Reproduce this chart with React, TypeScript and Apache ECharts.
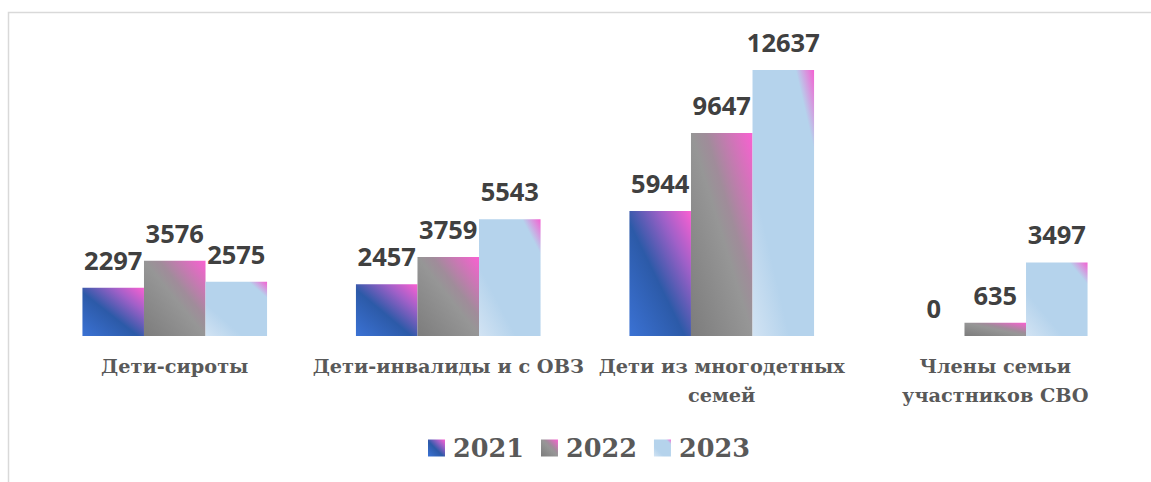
import React, { useEffect, useRef } from "react";
import * as echarts from "echarts";

const categories = [
  "Дети-сироты",
  "Дети-инвалиды и с ОВЗ",
  "Дети из многодетных\nсемей",
  "Члены семьи\nучастников СВО",
];
const seriesNames = ["2021", "2022", "2023"];
const values2021 = [2297, 2457, 5944, 0];
const values2022 = [3576, 3759, 9647, 635];
const values2023 = [2575, 5543, 12637, 3497];

const grad = (stops: [number, string][]) =>
  new echarts.graphic.LinearGradient(
    0,
    1,
    1,
    0,
    stops.map(([offset, color]) => ({ offset, color }))
  );

export default function App() {
  const ref = useRef<HTMLDivElement>(null);
  useEffect(() => {
    if (!ref.current) return;
    const chart = echarts.init(ref.current, undefined, { renderer: "svg" });
    const fills = [
      grad([
        [0, "#3b72d4"],
        [0.45, "#2c5aa8"],
        [0.75, "#a060c8"],
        [1, "#fb60d2"],
      ]),
      grad([
        [0, "#7c7c7c"],
        [0.5, "#969696"],
        [0.62, "#a08c9a"],
        [1, "#fa60d2"],
      ]),
      grad([
        [0, "#d2e3f3"],
        [0.3, "#b5d3ec"],
        [0.85, "#b5d3ec"],
        [1, "#f560d2"],
      ]),
    ];
    const data = [values2021, values2022, values2023];
    chart.setOption({
      animation: false,
      backgroundColor: "#ffffff",
      graphic: [
        {
          type: "rect",
          shape: { x: 8.5, y: 12.5, width: 1200, height: 500 },
          style: { fill: "none", stroke: "#d9d9d9", lineWidth: 1.5 },
          silent: true,
        },
      ],
      grid: { left: 38, right: 19, top: 70, bottom: 146, containLabel: false },
      legend: {
        bottom: 16,
        left: 423,
        itemWidth: 17,
        itemHeight: 17,
        itemGap: 17,
        icon: "rect",
        textStyle: {
          fontFamily: "DejaVu Serif",
          fontWeight: "bold",
          fontSize: 25.5,
          color: "#595959",
          padding: [0, 0, 0, 3],
        },
        data: seriesNames,
      },
      xAxis: {
        type: "category",
        data: categories,
        axisLine: { show: false },
        axisTick: { show: false },
        axisLabel: {
          interval: 0,
          margin: 16,
          fontFamily: "DejaVu Serif",
          fontWeight: "bold",
          fontSize: 19.3,
          lineHeight: 29,
          color: "#595959",
        },
      },
      yAxis: {
        type: "value",
        min: 0,
        max: 12637,
        show: false,
        splitLine: { show: false },
      },
      series: seriesNames.map((name, i) => ({
        name,
        type: "bar",
        data: data[i],
        barGap: "0%",
        barCategoryGap: "32.5%",
        itemStyle: { color: fills[i] },
        label: {
          show: true,
          position: "top",
          distance: 15,
          fontFamily: "Open Sans",
          fontWeight: "bold",
          fontSize: 25.5,
          color: "#404040",
        },
      })),
    });
    return () => chart.dispose();
  }, []);
  return (
    <div
      ref={ref}
      style={{ position: "absolute", left: 0, top: 0, width: 1151, height: 482 }}
    />
  );
}
